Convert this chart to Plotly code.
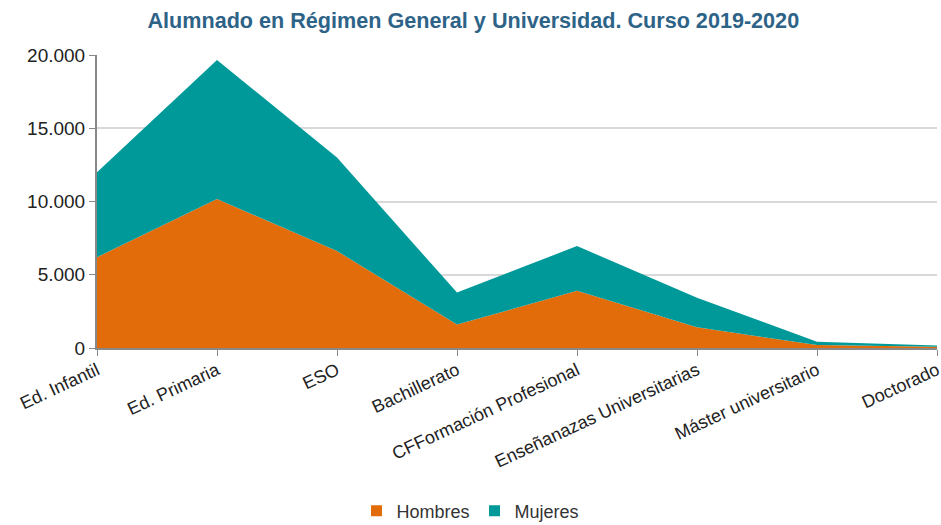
import plotly.graph_objects as go

categorias = ["Ed. Infantil", "Ed. Primaria", "ESO", "Bachillerato",
              "CFFormación Profesional", "Enseñanazas Universitarias",
              "Máster universitario", "Doctorado"]
hombres = [6200, 10170, 6620, 1600, 3900, 1420, 200, 90]
mujeres = [5800, 9490, 6380, 2180, 3060, 2010, 230, 80]
y_ticks = [0, 5000, 10000, 15000, 20000]
y_tick_labels = ["0", "5.000", "10.000", "15.000", "20.000"]

color_h = "#E36C0A"
color_m = "#009999"

fig = go.Figure()
fig.add_trace(go.Scatter(x=categorias, y=hombres, name="Hombres", mode="lines",
                         stackgroup="one", line=dict(width=0, color=color_h),
                         fillcolor=color_h, showlegend=False))
fig.add_trace(go.Scatter(x=categorias, y=mujeres, name="Mujeres", mode="lines",
                         stackgroup="one", line=dict(width=0, color=color_m),
                         fillcolor=color_m, showlegend=False))
# legend entries with square symbols
fig.add_trace(go.Scatter(x=[None], y=[None], name="Hombres", mode="markers",
                         marker=dict(symbol="square", size=11, color=color_h)))
fig.add_trace(go.Scatter(x=[None], y=[None], name="Mujeres", mode="markers",
                         marker=dict(symbol="square", size=11, color=color_m)))

fig.update_layout(
    width=941, height=525,
    margin=dict(l=97, r=4, t=55, b=177, autoexpand=False),
    paper_bgcolor="white", plot_bgcolor="white",
    font=dict(family="Liberation Sans, Arial, sans-serif", color="#333333"),
    title=dict(text="<b>Alumnado en Régimen General y Universidad. Curso 2019-2020</b>",
               x=0.503, xref="container", xanchor="center",
               y=1 - 20 / 525, yref="container", yanchor="middle",
               font=dict(size=21.6, color="#2E6388")),
    showlegend=True,
    legend=dict(orientation="h", x=0.5, xanchor="center", xref="container",
                y=(348 - 511) / 293, yref="paper", yanchor="middle",
                font=dict(size=18, color="#333333"), traceorder="normal",
                itemwidth=30, tracegroupgap=0),
)
fig.update_xaxes(type="category", range=[0, 7], showline=True, linecolor="#888888",
                 linewidth=2, ticks="outside", ticklen=6, tickcolor="#888888",
                 tickangle=-25, ticklabelstandoff=-3,
                 tickfont=dict(size=18, color="#222222"),
                 showgrid=False, zeroline=False, automargin=False)
fig.update_yaxes(range=[0, 20000], tickvals=y_ticks, ticktext=y_tick_labels,
                 showline=True, linecolor="#888888", linewidth=2,
                 ticks="outside", ticklen=6, tickcolor="#888888",
                 tickfont=dict(size=19, color="#222222"),
                 showgrid=True, gridcolor="#D9D9D9", gridwidth=1.5, zeroline=False,
                 automargin=False)

fig.write_html("out.html", config={"displayModeBar": False},
               post_script="document.body.style.margin='0px';")
